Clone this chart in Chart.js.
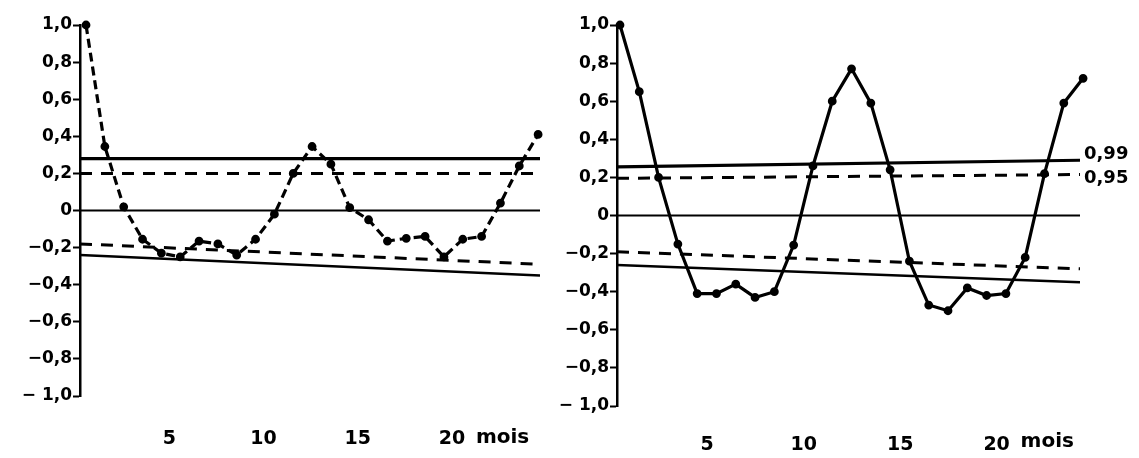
<!DOCTYPE html>
<html>
<head>
<meta charset="utf-8">
<script src="https://cdn.jsdelivr.net/npm/chart.js@4.4.1/dist/chart.umd.min.js"></script>
<style>
  html, body { margin: 0; padding: 0; background: #fff; }
  #wrap { position: relative; width: 1139px; height: 458px; }
  .box { position: absolute; top: 0; height: 458px; }
  #left { left: 0; width: 560px; }
  #right { left: 560px; width: 579px; }
</style>
</head>
<body>
<div id="wrap">
  <div class="box" id="left"><canvas id="acf-left"></canvas></div>
  <div class="box" id="right"><canvas id="acf-right"></canvas></div>
</div>
<script>
// lags (mois) and autocorrelation values
const lags = [1,2,3,4,5,6,7,8,9,10,11,12,13,14,15,16,17,18,19,20,21,22,23,24,25];
const leftValues = [1.0, 0.345, 0.02, -0.155, -0.23, -0.25, -0.165, -0.18, -0.24, -0.155,
  -0.02, 0.2, 0.345, 0.25, 0.015, -0.05, -0.165, -0.15, -0.14, -0.25,
  -0.155, -0.14, 0.04, 0.24, 0.41];
const rightValues = [1.0, 0.65, 0.2, -0.15, -0.41, -0.41, -0.36, -0.43, -0.40, -0.155,
  0.26, 0.6, 0.77, 0.59, 0.24, -0.24, -0.47, -0.5, -0.38, -0.42,
  -0.41, -0.22, 0.22, 0.59, 0.72];

// confidence limits (value at start of axis, value at end)
const leftUpper99 = [0.28, 0.28];
const leftUpper95 = [0.2, 0.2];
const leftLower95 = [-0.18, -0.29];
const leftLower99 = [-0.24, -0.35];
const rightUpper99 = [0.255, 0.29];
const rightUpper95 = [0.195, 0.215];
const rightLower95 = [-0.19, -0.28];
const rightLower99 = [-0.26, -0.35];

const xTicks = [5, 10, 15, 20];
const yTickLabels = ['\u2212 1,0', '\u22120,8', '\u22120,6', '\u22120,4', '\u22120,2', '0', '0,2', '0,4', '0,6', '0,8', '1,0'];
const levelLabels = ['0,99', '0,95'];

const FONT = '"DejaVu Sans", sans-serif';

function limitLine(vals, xmin, xmax, dash, width) {
  return {
    data: [{x: xmin, y: vals[0]}, {x: xmax, y: vals[1]}],
    borderColor: '#000', borderWidth: width, borderDash: dash,
    pointRadius: 0, fill: false
  };
}

function makeChart(id, values, lims, cfg) {
  const series = {
    data: lags.map((l, i) => ({x: l, y: values[i]})),
    borderColor: '#000', backgroundColor: '#000', borderWidth: 3.2,
    borderDash: cfg.dash, pointRadius: 2.8, pointBackgroundColor: '#000',
    clip: false, fill: false
  };
  const datasets = [
    series,
    limitLine([0, 0], cfg.xmin, cfg.xmax, [], 2),
    limitLine(lims[0], cfg.xmin, cfg.xmax, [], 3.2),
    limitLine(lims[1], cfg.xmin, cfg.xmax, [12, 9], 3),
    limitLine(lims[2], cfg.xmin, cfg.xmax, [12, 9], 3),
    limitLine(lims[3], cfg.xmin, cfg.xmax, [], 2.5)
  ];

  const extraText = {
    id: 'extraText',
    afterDraw(chart) {
      const ctx = chart.ctx;
      const xs = chart.scales.x, ys = chart.scales.y;
      ctx.save();
      ctx.fillStyle = '#000';
      ctx.font = 'bold 20px ' + FONT;
      ctx.textBaseline = 'middle';
      ctx.textAlign = 'left';
      ctx.fillText('mois', xs.getPixelForValue(20) + cfg.moisGap, cfg.labelY);
      if (cfg.levels) {
        ctx.font = 'bold 18px ' + FONT;
        ctx.fillText(levelLabels[0], xs.right + 4, ys.getPixelForValue(lims[0][1]) - 6);
        ctx.fillText(levelLabels[1], xs.right + 4, ys.getPixelForValue(lims[1][1]) + 4);
      }
      ctx.restore();
    }
  };

  return new Chart(document.getElementById(id), {
    type: 'line',
    data: { datasets },
    options: {
      responsive: true, maintainAspectRatio: false, animation: false,
      plugins: { legend: { display: false }, tooltip: { enabled: false } },
      layout: { padding: { top: 25, right: cfg.padRight, left: 0, bottom: 0 } },
      scales: {
        x: {
          type: 'linear', min: cfg.xmin, max: cfg.xmax,
          grid: { display: false }, border: { display: false },
          afterFit: s => { s.height = cfg.xHeight; },
          afterBuildTicks: s => { s.ticks = xTicks.map(v => ({ value: v })); },
          ticks: {
            color: '#000', padding: cfg.xPad, labelOffset: cfg.labelOffset,
            maxRotation: 0, autoSkip: false,
            font: { family: FONT, size: 19, weight: 'bold' }
          }
        },
        y: {
          min: -1, max: 1,
          afterFit: s => { s.width = cfg.yWidth; },
          afterBuildTicks: s => { s.ticks = yTickLabels.map((t, i) => ({ value: -1 + i * 0.2 })); },
          grid: { drawOnChartArea: false, drawTicks: true, tickLength: 7, tickColor: '#000', tickWidth: 2 },
          border: { display: true, color: '#000', width: 2.5 },
          ticks: {
            color: '#000', padding: 1,
            callback: (v, i) => yTickLabels[i],
            font: { family: FONT, size: 17, weight: 'bold' }
          }
        }
      }
    },
    plugins: [extraText]
  });
}

makeChart('acf-left', leftValues, [leftUpper99, leftUpper95, leftLower95, leftLower99], {
  dash: [9, 5], xmin: 0.68, xmax: 25.1, yWidth: 80, padRight: 20,
  xHeight: 62, xPad: 24, labelOffset: 8, moisGap: 32, labelY: 438, levels: false
});
makeChart('acf-right', rightValues, [rightUpper99, rightUpper95, rightLower95, rightLower99], {
  dash: [], xmin: 0.845, xmax: 24.84, yWidth: 57, padRight: 59,
  xHeight: 52, xPad: 20, labelOffset: 10, moisGap: 34, labelY: 442, levels: true
});
</script>
</body>
</html>
